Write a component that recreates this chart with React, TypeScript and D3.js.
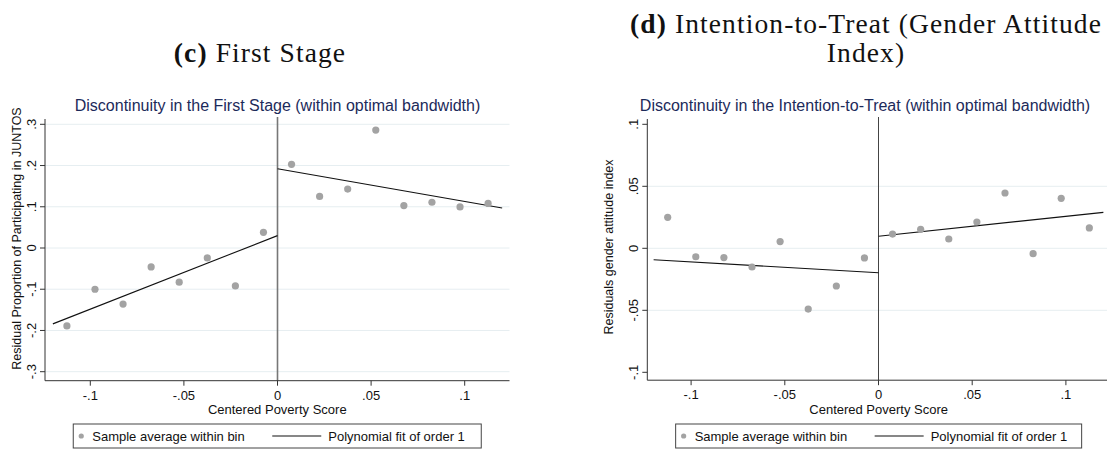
import React from "react";
import * as d3 from "d3";

// bin midpoints of the centered poverty score (same bins in both panels)
const binX = [
  -0.1125, -0.0975, -0.0825, -0.0675, -0.0525, -0.0375, -0.0225, -0.0075,
  0.0075, 0.0225, 0.0375, 0.0525, 0.0675, 0.0825, 0.0975, 0.1125,
];

// (c) first stage: residual proportion participating in JUNTOS
const firstStageY = [
  -0.189, -0.1, -0.136, -0.046, -0.083, -0.024, -0.092, 0.038,
  0.203, 0.125, 0.143, 0.286, 0.103, 0.111, 0.0995, 0.108,
];
// (d) intention-to-treat: residual gender attitude index
const ittY = [
  0.025, -0.0068, -0.0075, -0.0151, 0.0054, -0.049, -0.0304, -0.0078,
  0.0115, 0.0153, 0.0075, 0.0212, 0.0446, -0.0043, 0.0403, 0.0164,
];

// linear fits, each side of the cutoff (end points)
const fitLeftX = [-0.12, 0];
const fitRightX = [0, 0.12];
const firstStageFitLeft = [-0.184, 0.03];
const firstStageFitRight = [0.192, 0.097];
const ittFitLeft = [-0.0092, -0.0197];
const ittFitRight = [0.0097, 0.029];

const xTicks = [-0.1, -0.05, 0, 0.05, 0.1];
const firstStageTicks = [-0.3, -0.2, -0.1, 0, 0.1, 0.2, 0.3];
const ittTicks = [-0.1, -0.05, 0, 0.05, 0.1];
const ittGrid = [-0.05, 0, 0.05];

const W = 1107;
const H = 451;
const SANS = "'Liberation Sans', Arial, sans-serif";
const SERIF = "'Liberation Serif', 'Times New Roman', serif";
const NAVY = "#1c2a5a";
const GRID = "#e6eef1";
const DOT = "#a3a3a3";

// Stata style tick label: .1, -.05, 0
const fmt = (v: number) => String(+v.toFixed(3)).replace(/^(-?)0\./, "$1.");

type PanelProps = {
  title: string;
  yTitle: string;
  ys: number[];
  fitL: number[];
  fitR: number[];
  yTicks: number[];
  grid: number[];
  xRangePx: [number, number]; // pixel of -0.1 / 0.1
  yDomain: [number, number];
  yRangePx: [number, number];
  left: number;
  right: number;
  top: number;
  bottom: number;
  titleX: number;
  yTitleX: number;
  yTitleY: number;
  cutColor: string;
  cutWidth: number;
  legendW: number;
};

function Panel(p: PanelProps) {
  const x = d3.scaleLinear().domain([-0.1, 0.1]).range(p.xRangePx);
  const y = d3.scaleLinear().domain(p.yDomain).range(p.yRangePx);
  const fitPath = (xs: number[], vals: number[]) =>
    d3
      .line<number>()
      .x((_, i) => x(xs[i]))
      .y((d) => y(d))(vals) || "";
  const cx = (p.left + p.right) / 2;
  const legY = 424;
  const legX = cx - p.legendW / 2;
  return (
    <g>
      <text
        x={p.titleX}
        y={110.5}
        textAnchor="middle"
        fontFamily={SANS}
        fontSize={16}
        fill={NAVY}
      >
        {p.title}
      </text>
      {p.grid.map((v) => (
        <line
          key={"g" + v}
          x1={p.left}
          x2={p.right}
          y1={y(v)}
          y2={y(v)}
          stroke={GRID}
          strokeWidth={1}
        />
      ))}
      {/* cutoff */}
      <line
        x1={x(0)}
        x2={x(0)}
        y1={p.top}
        y2={p.bottom}
        stroke={p.cutColor}
        strokeWidth={p.cutWidth}
      />
      {/* axes */}
      <line x1={p.left} x2={p.left} y1={p.top + 2} y2={p.bottom} stroke="#333" />
      <line x1={p.left} x2={p.right} y1={p.bottom} y2={p.bottom} stroke="#333" />
      {xTicks.map((v) => (
        <g key={"x" + v}>
          <line x1={x(v)} x2={x(v)} y1={p.bottom} y2={p.bottom + 5} stroke="#333" />
          <text
            x={x(v)}
            y={p.bottom + 19}
            textAnchor="middle"
            fontFamily={SANS}
            fontSize={13}
            fill="#111"
          >
            {fmt(v)}
          </text>
        </g>
      ))}
      {p.yTicks.map((v) => (
        <g key={"y" + v}>
          <line x1={p.left - 5} x2={p.left} y1={y(v)} y2={y(v)} stroke="#333" />
          <text
            transform={`translate(${p.left - 9},${y(v)}) rotate(-90)`}
            textAnchor="middle"
            fontFamily={SANS}
            fontSize={13}
            fill="#111"
          >
            {fmt(v)}
          </text>
        </g>
      ))}
      <text
        x={cx}
        y={414}
        textAnchor="middle"
        fontFamily={SANS}
        fontSize={13}
        fill="#111"
      >
        Centered Poverty Score
      </text>
      <text
        transform={`translate(${p.yTitleX},${p.yTitleY}) rotate(-90)`}
        textAnchor="middle"
        fontFamily={SANS}
        fontSize={12.5}
        fill="#111"
      >
        {p.yTitle}
      </text>
      {/* fits */}
      <path d={fitPath(fitLeftX, p.fitL)} fill="none" stroke="#111" strokeWidth={1.1} />
      <path d={fitPath(fitRightX, p.fitR)} fill="none" stroke="#111" strokeWidth={1.1} />
      {/* bin averages */}
      {p.ys.map((v, i) => (
        <circle key={"p" + i} cx={x(binX[i])} cy={y(v)} r={3.6} fill={DOT} />
      ))}
      {/* legend */}
      <rect
        x={legX}
        y={legY}
        width={p.legendW}
        height={24}
        fill="#fff"
        stroke="#444"
        strokeWidth={1}
      />
      <circle cx={legX + 8} cy={legY + 12} r={2.6} fill={DOT} />
      <text
        x={legX + 19}
        y={legY + 17}
        fontFamily={SANS}
        fontSize={13}
        fill="#111"
      >
        Sample average within bin
      </text>
      <line
        x1={legX + 199}
        x2={legX + 248}
        y1={legY + 12}
        y2={legY + 12}
        stroke="#111"
        strokeWidth={1.1}
      />
      <text
        x={legX + 255}
        y={legY + 17}
        fontFamily={SANS}
        fontSize={13}
        fill="#111"
      >
        Polynomial fit of order 1
      </text>
    </g>
  );
}

export default function App() {
  const head = { fontFamily: SERIF, fontSize: 27.5, fill: "#111", letterSpacing: 1.1 };
  return (
    <svg
      width={W}
      height={H}
      style={{ position: "absolute", left: 0, top: 0, background: "#fff" }}
    >
      <text x={260} y={62} textAnchor="middle" {...head}>
        <tspan fontWeight="bold">(c)</tspan> First Stage
      </text>
      <text x={866} y={33} textAnchor="middle" {...head}>
        <tspan fontWeight="bold">(d)</tspan> Intention-to-Treat (Gender Attitude
      </text>
      <text x={866} y={62} textAnchor="middle" {...head}>
        Index)
      </text>

      <Panel
        title="Discontinuity in the First Stage (within optimal bandwidth)"
        yTitle="Residual Proportion of Participating in JUNTOS"
        ys={firstStageY}
        fitL={firstStageFitLeft}
        fitR={firstStageFitRight}
        yTicks={firstStageTicks}
        grid={firstStageTicks}
        xRangePx={[90.3, 464.7]}
        yDomain={[-0.3, 0.3]}
        yRangePx={[371.7, 124.3]}
        left={45}
        right={509.5}
        top={117}
        bottom={380.7}
        titleX={277.5}
        yTitleX={21}
        yTitleY={238.5}
        cutColor="#777"
        cutWidth={1.6}
        legendW={408}
      />
      <Panel
        title="Discontinuity in the Intention-to-Treat (within optimal bandwidth)"
        yTitle="Residuals gender attitude index"
        ys={ittY}
        fitL={ittFitLeft}
        fitR={ittFitRight}
        yTicks={ittTicks}
        grid={ittGrid}
        xRangePx={[691.1, 1065.9]}
        yDomain={[-0.1, 0.1]}
        yRangePx={[372.3, 124.3]}
        left={647.3}
        right={1110}
        top={117}
        bottom={380.2}
        titleX={865}
        yTitleX={613}
        yTitleY={247}
        cutColor="#444"
        cutWidth={1}
        legendW={406}
      />
    </svg>
  );
}
